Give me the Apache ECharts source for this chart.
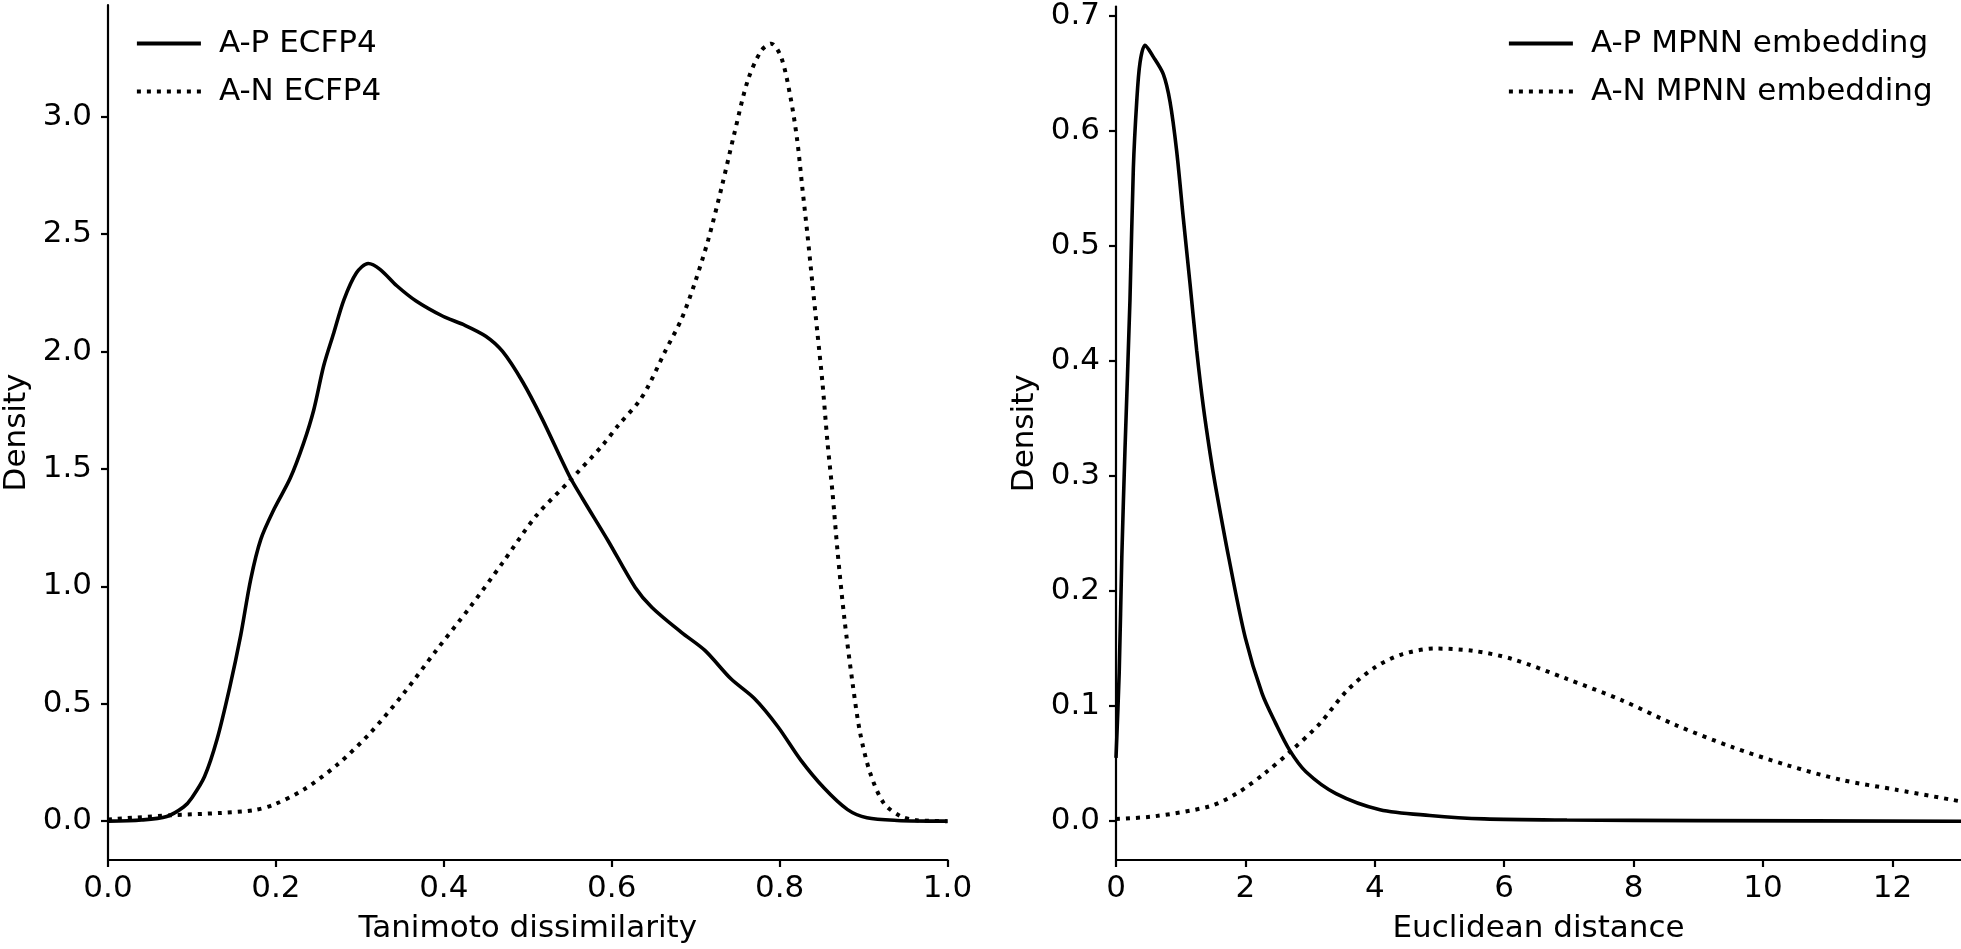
<!DOCTYPE html>
<html>
<head>
<meta charset="utf-8">
<script src="https://cdn.jsdelivr.net/npm/echarts@6/dist/echarts.min.js"></script>
<style>
html,body{margin:0;padding:0;background:#fff;}
#chart{width:1961px;height:949px;}
</style>
</head>
<body>
<div id="chart"></div>
<script>
// ---- Data ----
const apEcfpX = [0,0.04,0.07,0.09,0.10,0.115,0.13,0.145,0.158,0.17,0.182,0.198,0.217,0.233,0.245,0.257,0.269,0.281,0.296,0.310,0.324,0.344,0.367,0.399,0.423,0.450,0.470,0.494,0.517,0.549,0.565,0.596,0.628,0.648,0.683,0.711,0.742,0.770,0.798,0.825,0.853,0.881,0.904,0.94,1.0];
const apEcfpY = [0,0.005,0.02,0.06,0.10,0.19,0.35,0.57,0.79,1.03,1.20,1.33,1.46,1.61,1.75,1.94,2.08,2.22,2.335,2.375,2.35,2.28,2.215,2.15,2.115,2.065,2.00,1.87,1.714,1.474,1.375,1.192,0.995,0.91,0.804,0.727,0.606,0.522,0.402,0.261,0.141,0.049,0.014,0.003,0.0];
const anEcfpX = [0,0.075,0.135,0.174,0.198,0.233,0.273,0.312,0.352,0.391,0.431,0.470,0.510,0.549,0.589,0.608,0.632,0.644,0.663,0.683,0.699,0.715,0.731,0.746,0.762,0.778,0.790,0.802,0.813,0.821,0.827,0.833,0.839,0.845,0.851,0.857,0.863,0.869,0.877,0.887,0.896,0.908,0.924,0.944,0.963,1.0];
const anEcfpY = [0.007,0.025,0.035,0.047,0.071,0.134,0.24,0.374,0.543,0.727,0.91,1.10,1.30,1.446,1.60,1.686,1.785,1.855,1.996,2.137,2.292,2.476,2.70,2.927,3.153,3.28,3.311,3.252,3.082,2.899,2.70,2.504,2.292,2.081,1.869,1.615,1.40,1.15,0.868,0.585,0.374,0.204,0.077,0.021,0.004,0.0];

const apMpnnX = [0,0.05,0.09,0.139,0.216,0.268,0.32,0.371,0.448,0.577,0.731,0.835,0.938,1.04,1.144,1.247,1.35,1.453,1.535,1.746,2.0,2.257,2.468,2.68,2.935,3.4,4.08,4.85,5.69,6.97,9,13.06];
const apMpnnY = [0.055,0.13,0.23,0.323,0.453,0.567,0.625,0.659,0.674,0.664,0.649,0.625,0.582,0.524,0.467,0.409,0.36,0.32,0.292,0.228,0.159,0.111,0.085,0.062,0.043,0.024,0.010,0.005,0.002,0.001,0.0005,0];
const anMpnnX = [0,0.6,1.45,1.875,2.30,2.72,3.15,3.57,4.0,4.42,4.93,5.52,6.12,6.97,7.82,8.66,9.51,10.36,11.21,12.06,13.06];
const anMpnnY = [0.002,0.0043,0.013,0.0244,0.0417,0.0618,0.0848,0.1135,0.1336,0.145,0.15,0.148,0.141,0.1236,0.105,0.0833,0.0647,0.0489,0.0359,0.0273,0.0172];

const tanimotoTicks = [0,0.2,0.4,0.6,0.8,1.0];
const densityTicksLeft = [0,0.5,1.0,1.5,2.0,2.5,3.0];
const euclidTicks = [0,2,4,6,8,10,12];
const densityTicksRight = [0,0.1,0.2,0.3,0.4,0.5,0.6,0.7];

const seriesNames = ['A-P ECFP4','A-N ECFP4','A-P MPNN embedding','A-N MPNN embedding'];

// ---- Chart ----
const pairs = (xs, ys) => xs.map((x, i) => [x, ys[i]]);
const FONT = 'DejaVu Sans';
const FS = 31;
const axisLineStyle = {color:'#000', width:2.2};

function xAxisCfg(idx, min, max, ticks, name, fmt){
  return {
    type:'value', gridIndex:idx, min:min, max:max,
    name:name, nameLocation:'middle', nameGap:53,
    nameTextStyle:{fontFamily:FONT, fontSize:FS, color:'#000'},
    axisLine:{show:true, onZero:false, lineStyle:axisLineStyle},
    axisTick:{show:true, length:7, lineStyle:axisLineStyle, customValues:ticks},
    axisLabel:{fontFamily:FONT, fontSize:FS, color:'#000', margin:13, customValues:ticks, formatter:fmt},
    splitLine:{show:false}
  };
}
function yAxisCfg(idx, min, max, ticks, fmt){
  return {
    type:'value', gridIndex:idx, min:min, max:max,
    name:'Density', nameLocation:'middle', nameGap:76,
    nameTextStyle:{fontFamily:FONT, fontSize:FS, color:'#000'},
    axisLine:{show:true, onZero:false, lineStyle:axisLineStyle},
    axisTick:{show:true, length:7, lineStyle:axisLineStyle, customValues:ticks},
    axisLabel:{fontFamily:FONT, fontSize:FS, color:'#000', margin:16, customValues:ticks, formatter:fmt},
    splitLine:{show:false}
  };
}
const f1 = v => Number(v).toFixed(1);
const f0 = v => String(Math.round(v));

const solid = {color:'#000', width:3.6, type:'solid'};
const dotted = {color:'#000', width:4, type:[4,6], cap:'butt'};

function lineSeries(name, data, xi, style){
  return {
    name:name, type:'line', xAxisIndex:xi, yAxisIndex:xi, data:data,
    showSymbol:false, symbol:'none', smooth:0.3,
    lineStyle:style, itemStyle:{color:'#000'}, animation:false, z:3
  };
}

const legendCommon = {
  orient:'vertical', itemWidth:64, itemHeight:20, itemGap:17,
  itemStyle:{opacity:0, color:'rgba(0,0,0,0)', borderWidth:0},
  lineStyle:{width:3.8},
  textStyle:{fontFamily:FONT, fontSize:FS, color:'#000', padding:[0,0,0,13]}
};

const option = {
  backgroundColor:'#fff',
  animation:false,
  grid:[
    {left:103, top:5, width:844.5, height:859},
    {left:1116, top:5, width:845, height:859}
  ],
  xAxis:[
    xAxisCfg(0, 0, 1, tanimotoTicks, 'Tanimoto dissimilarity', f1),
    xAxisCfg(1, 0, 13.06, euclidTicks, 'Euclidean distance', f0)
  ],
  yAxis:[
    yAxisCfg(0, -0.1655, 3.4755, densityTicksLeft, f1),
    yAxisCfg(1, -0.0337, 0.7077, densityTicksRight, f1)
  ],
  legend:[
    Object.assign({}, legendCommon, {data:[seriesNames[0], seriesNames[1]], left:130, top:23}),
    Object.assign({}, legendCommon, {data:[seriesNames[2], seriesNames[3]], left:1502, top:23})
  ],
  series:[
    lineSeries(seriesNames[0], pairs(apEcfpX, apEcfpY), 0, solid),
    lineSeries(seriesNames[1], pairs(anEcfpX, anEcfpY), 0, dotted),
    lineSeries(seriesNames[2], pairs(apMpnnX, apMpnnY), 1, solid),
    lineSeries(seriesNames[3], pairs(anMpnnX, anMpnnY), 1, dotted)
  ]
};

const chart = echarts.init(document.getElementById('chart'), null, {renderer:'canvas'});
chart.setOption(option);
</script>
</body>
</html>
